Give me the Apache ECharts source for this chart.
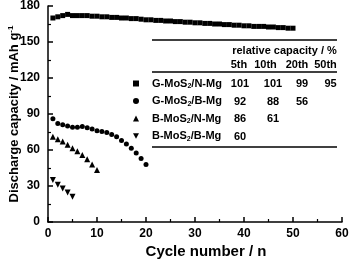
<!DOCTYPE html>
<html>
<head>
<meta charset="utf-8">
<script src="https://cdn.jsdelivr.net/npm/echarts@6/dist/echarts.min.js"></script>
<style>
  html, body { margin: 0; padding: 0; background: #fff; }
  #chart { width: 350px; height: 259px; }
</style>
</head>
<body>
<div id="chart"></div>
<script>
// series names (subscript 2 is handled by the legend formatter)
const seriesNames = ['G-MoS2/N-Mg', 'G-MoS2/B-Mg', 'B-MoS2/N-Mg', 'B-MoS2/B-Mg'];

// discharge capacity per cycle (cycle 1..n)
const gN = [170, 171, 172, 173, 172, 172, 172, 172, 171.5, 171.5,
            171, 171, 170.5, 170.5, 170, 170, 169.5, 169.5, 169, 168.5,
            168.5, 168, 168, 167.5, 167.5, 167, 167, 166.5, 166.5, 166,
            166, 165.5, 165.5, 165, 165, 164.5, 164.5, 164, 164, 163.5,
            163.5, 163, 163, 163, 162.5, 162.5, 162, 162, 161.5, 161.5];
const gB = [86, 82, 81, 80, 79, 79, 79.5, 78.5, 77.5, 76,
            75.5, 74.5, 73, 71, 68, 65, 61.5, 57.5, 53, 48];
const bN = [71, 69, 67, 64.4, 61.4, 59, 55.8, 52.2, 48, 43.3];
const bB = [35, 31, 28, 24.5, 21];

// relative capacity table
const tableTitle = 'relative capacity / %';
const tableCols = ['5th', '10th', '20th', '50th'];
const relCapacity = [
  ['101', '101', '99', '95'],
  ['92', '88', '56', ''],
  ['86', '61', '', ''],
  ['60', '', '', '']
];

const xTicks = { min: 0, max: 60, interval: 10 };
const yTicks = { min: 0, max: 180, interval: 30 };

const font = '"Liberation Sans", Arial, sans-serif';
const symbols = ['rect', 'circle', 'triangle', 'path://M0,0L10,0L5,9Z'];
const symbolSizes = [5, 5, 6, 6];
const allData = [gN, gB, bN, bB];

const chart = echarts.init(document.getElementById('chart'));

// table layout
const colX = [240, 273, 302, 330.5];
const headX = [239, 265.5, 297, 325.5];
const rowY = [84, 101.5, 119, 136.5];
const lineX1 = 152, lineX2 = 337;

const graphics = [
  { type: 'line', shape: { x1: lineX1, y1: 40, x2: lineX2, y2: 40 }, style: { stroke: '#000', lineWidth: 1.5 } },
  { type: 'line', shape: { x1: lineX1, y1: 72, x2: lineX2, y2: 72 }, style: { stroke: '#000', lineWidth: 1.5 } },
  { type: 'line', shape: { x1: lineX1, y1: 147, x2: lineX2, y2: 147 }, style: { stroke: '#000', lineWidth: 1.5 } },
  { type: 'text', x: 284.5, y: 51, style: { text: tableTitle, font: 'bold 11px ' + font, fill: '#000', align: 'center', verticalAlign: 'middle' } }
];
tableCols.forEach((c, i) => {
  graphics.push({ type: 'text', x: headX[i], y: 65, style: { text: c, font: 'bold 11px ' + font, fill: '#000', align: 'center', verticalAlign: 'middle' } });
});
relCapacity.forEach((row, r) => {
  row.forEach((v, c) => {
    if (!v) return;
    graphics.push({ type: 'text', x: colX[c], y: rowY[r], style: { text: v, font: 'bold 11px ' + font, fill: '#000', align: 'center', verticalAlign: 'middle' } });
  });
});

// one legend per row so each lines up with its table row
const legends = seriesNames.map((n, i) => ({
  orient: 'vertical',
  left: 133,
  top: rowY[i] - 7,
  padding: 0,
  itemWidth: 6,
  itemHeight: 6,
  selectedMode: false,
  data: [{ name: n, icon: symbols[i] }],
  formatter: name => {
    const p = name.split('2');
    return '{n|' + p[0] + '}{s|2}{n|' + p[1] + '}';
  },
  textStyle: {
    padding: [0, 0, 0, 8],
    rich: {
      n: { fontFamily: font, fontWeight: 'bold', fontSize: 11, color: '#000', lineHeight: 14 },
      s: { fontFamily: font, fontWeight: 'bold', fontSize: 7, color: '#000', lineHeight: 14, padding: [6, 0, 0, 0] }
    }
  }
}));

const option = {
  animation: false,
  backgroundColor: '#fff',
  grid: { left: 48, right: 8, top: 6, bottom: 37, containLabel: false, outerBoundsMode: 'none' },
  legend: legends,
  xAxis: {
    type: 'value',
    min: xTicks.min, max: xTicks.max, interval: xTicks.interval,
    name: 'Cycle number / n',
    nameLocation: 'middle',
    nameGap: 22,
    nameMoveOverlap: false,
    nameTextStyle: { fontFamily: font, fontWeight: 'bold', fontSize: 15, color: '#000', padding: [0, 0, 0, 22] },
    axisLine: { show: true, lineStyle: { color: '#000', width: 1.5 } },
    axisTick: { show: true, inside: true, length: 5, lineStyle: { color: '#000', width: 1.5 } },
    minorTick: { show: true, splitNumber: 2, length: 3, lineStyle: { color: '#000', width: 1.2 } },
    axisLabel: { fontFamily: font, fontWeight: 'bold', fontSize: 12, color: '#000', margin: 6 },
    splitLine: { show: false }
  },
  yAxis: {
    type: 'value',
    min: yTicks.min, max: yTicks.max, interval: yTicks.interval,
    name: '{a|Discharge capacity / mAh g}{b|-1}',
    nameLocation: 'middle',
    nameGap: 26,
    nameMoveOverlap: false,
    nameTextStyle: {
      rich: {
        a: { fontFamily: font, fontWeight: 'bold', fontSize: 13, color: '#000', lineHeight: 16 },
        b: { fontFamily: font, fontWeight: 'bold', fontSize: 8, color: '#000', lineHeight: 16, padding: [0, 0, 7, 0] }
      }
    },
    axisLine: { show: true, lineStyle: { color: '#000', width: 1.5 } },
    axisTick: { show: true, inside: true, length: 5, lineStyle: { color: '#000', width: 1.5 } },
    minorTick: { show: true, splitNumber: 2, length: 3, lineStyle: { color: '#000', width: 1.2 } },
    axisLabel: { fontFamily: font, fontWeight: 'bold', fontSize: 12, color: '#000', margin: 8 },
    splitLine: { show: false }
  },
  series: seriesNames.map((n, i) => ({
    name: n,
    type: 'line',
    showSymbol: true,
    symbol: symbols[i],
    symbolSize: symbolSizes[i],
    lineStyle: { width: 0 },
    itemStyle: { color: '#000' },
    data: allData[i].map((v, k) => [k + 1, v])
  })),
  graphic: graphics
};

chart.setOption(option);
</script>
</body>
</html>
